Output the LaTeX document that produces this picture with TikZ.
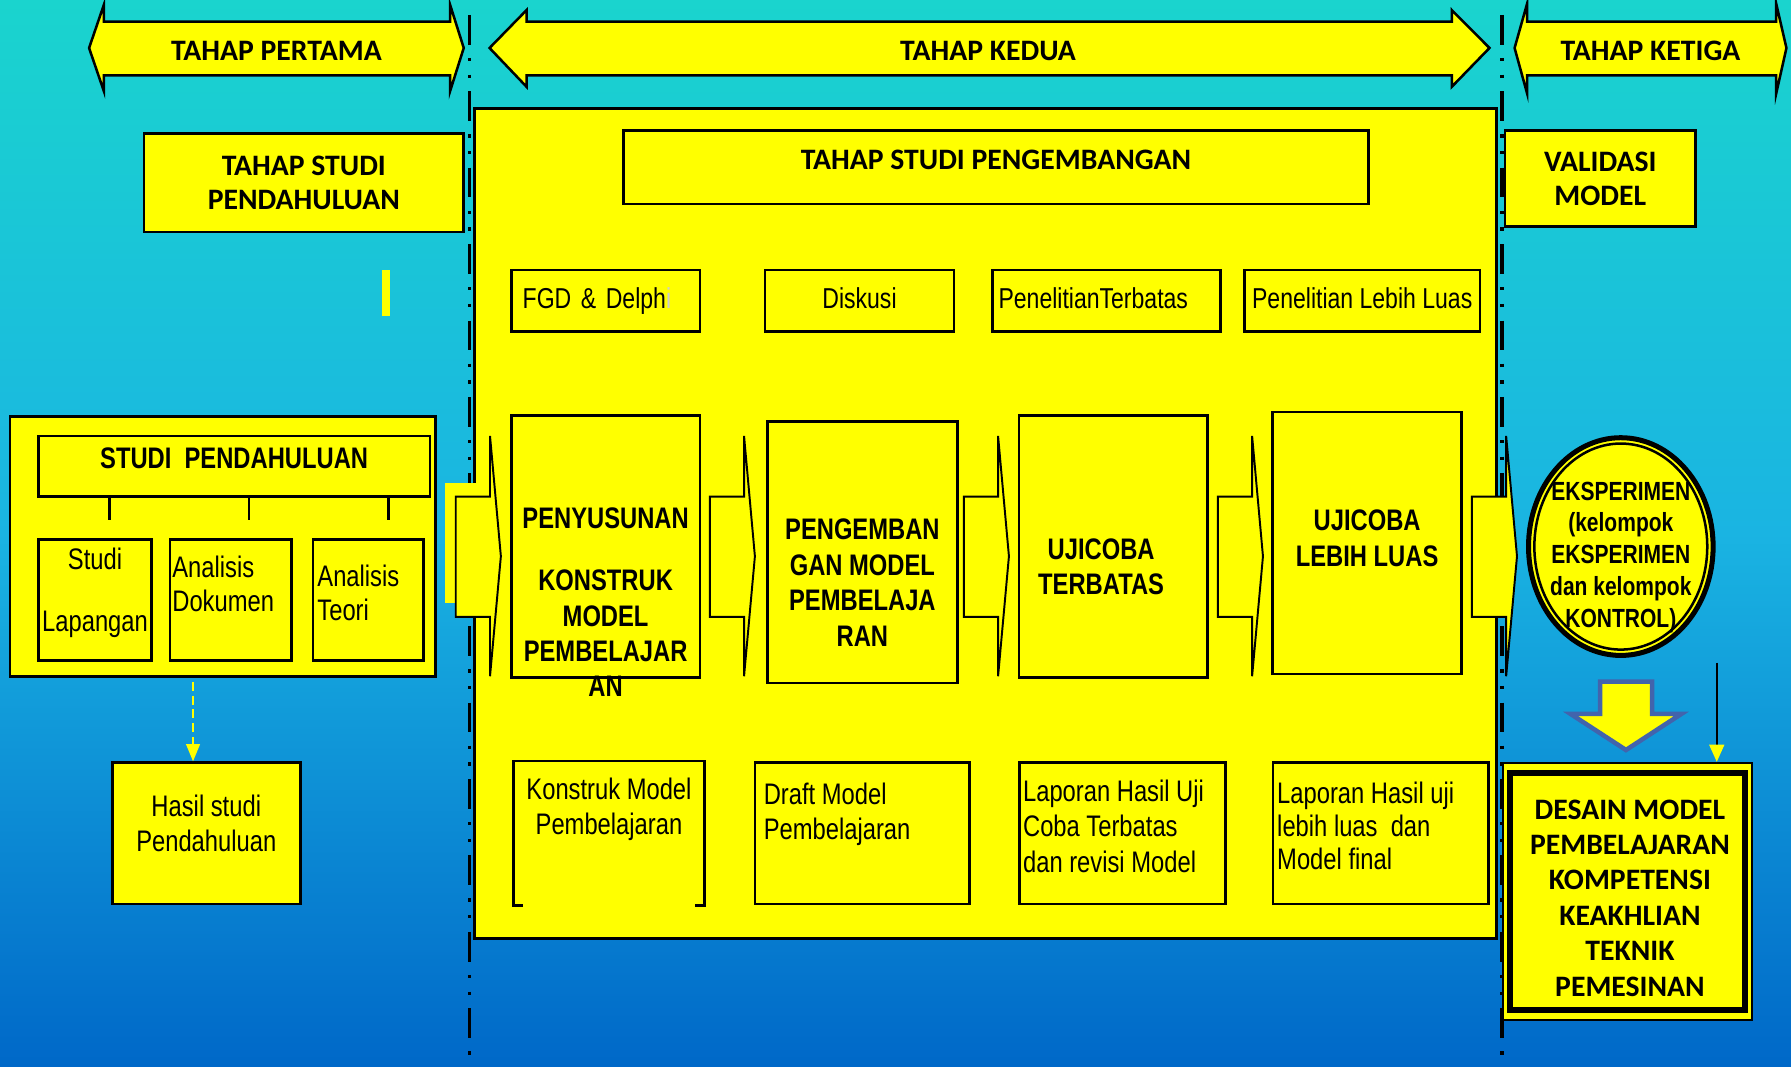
\documentclass[tikz,border=0pt]{standalone}
\usepackage{fontspec}
\setmainfont{Liberation Sans}
\newfontfamily\narrowfont{Liberation Sans}[FakeStretch=0.8]
\newfontfamily\califont{Carlito}
\usetikzlibrary{positioning,shapes.geometric,arrows.meta}

\definecolor{skytop}{RGB}{26,212,206}
\definecolor{skymid}{RGB}{26,180,226}
\definecolor{skybot}{RGB}{0,104,200}
\definecolor{downblue}{RGB}{66,100,172}
\definecolor{boxyellow}{RGB}{255,255,0}

\begin{document}
\begin{tikzpicture}[
        x = 0.5pt, y = -0.5pt,
        box/.style = {draw=black, line width=1.2pt, fill=boxyellow, inner sep=0pt},
        titletxt/.style = {font=\califont\bfseries\fontsize{13}{15}\selectfont, align=center},
        boldtxt/.style = {font=\narrowfont\bfseries\fontsize{13}{15.5}\selectfont, align=center, inner sep=0pt},
        bodytxt/.style = {font=\narrowfont\fontsize{13}{15.5}\selectfont, inner sep=0pt},
        topbox/.style = {box, minimum height=26.8pt, text height=9pt, text depth=2.5pt, font=\narrowfont\fontsize{12.6}{14}\selectfont},
        phaseline/.style = {line width=1.5pt, dash pattern=on 13pt off 5.85pt on 1.45pt off 5.85pt on 1.45pt off 5.85pt},
        bandarrow/.style = {draw=black, line width=1.1pt, fill=boxyellow},
        blockarrow/.style = {draw=black, line width=0.85pt, fill=boxyellow},
    ]
    \useasboundingbox (0,0) rectangle (1568,934);
    \shade[top color=skytop, bottom color=skybot, middle color=skymid] (0,0) rectangle (1568,934);

    % phase separators
    \coordinate (sep1) at (411,13);
    \coordinate (sep2) at (1315,13);
    \draw[phaseline] (sep1) -- (sep1 |- 0,934);
    \draw[phaseline] (sep2) -- (sep2 |- 0,934);

    % phase banners
    \draw[bandarrow] (78,42) -- (91,4) -- (91,19) -- (394,19) -- (394,4) -- (406,42)
        -- (394,80) -- (394,66) -- (91,66) -- (91,80) -- cycle;
    \draw[bandarrow] (428.6,42) -- (461,8.8) -- (461,19) -- (1271,19) -- (1271,8.8) -- (1304,42)
        -- (1271,76) -- (1271,66) -- (461,66) -- (461,76) -- cycle;
    \draw[bandarrow] (1326,42) -- (1337,3) -- (1337,19) -- (1555,19) -- (1555,3) -- (1564,42)
        -- (1555,82) -- (1555,66) -- (1337,66) -- (1337,82) -- cycle;
    \node[titletxt] (tahap1) at (242,44.5) {TAHAP PERTAMA};
    \node[titletxt] (tahap2) at (865,44.5) {TAHAP KEDUA};
    \node[titletxt] (tahap3) at (1445,44.5) {TAHAP KETIGA};

    % development panel
    \node[box, line width=1.3pt, minimum width=447.5pt, minimum height=363.5pt] (panel) at (862.5,458.5) {};

    \node[box, titletxt, minimum width=140pt, minimum height=43pt] (tsp) at (266,160) {TAHAP STUDI\\PENDAHULUAN};
    \node[box, titletxt, minimum width=326pt, minimum height=32pt, text depth=6.5pt] (tspg) at (872,146.5) {TAHAP STUDI PENGEMBANGAN};
    \node[box, titletxt, minimum width=83.5pt, minimum height=42pt] (val) at (1401,156.5) {VALIDASI\\MODEL};
    \fill[boxyellow] (334,236) rectangle (341,277);

    % methods
    \node[topbox, minimum width=82.4pt, text width=72.8pt, align=left] (fgd) at (530.4,263.2) {FGD \& Delph\textcolor{black!20}{i}};
    \node[topbox, minimum width=82.75pt] (disk) at (752.5,263.2) {Diskusi};
    \node[topbox, minimum width=99.85pt, text width=94.6pt, align=left] (pterb) at (968.8,263.2) {PenelitianTerbatas};
    \node[topbox, minimum width=103.2pt] (pluas) at (1192.6,263.2) {Penelitian Lebih Luas};

    % preliminary study
    \node[box, minimum width=186.1pt, minimum height=113.6pt] (sp) at (194.9,478.4) {};
    \node[box, boldtxt, minimum width=171.45pt, minimum height=26.65pt, text depth=7pt] (hdr) at (205,408.3) {STUDI\ \ PENDAHULUAN};
    \node[box, minimum width=49.6pt, minimum height=53pt] (sl) at (83.2,525) {};
    \node[box, minimum width=53.3pt, minimum height=53pt] (ad) at (202.1,525) {};
    \node[box, minimum width=48.25pt, minimum height=53pt] (at) at (322.25,525) {};
    \node[bodytxt, align=center, below = 4.25pt of sl.north] (sltxt) {Studi\\[11.5pt]Lapangan};
    \node[bodytxt, align=left, font=\narrowfont\fontsize{13}{15}\selectfont, below right = 7.75pt and 1.45pt of ad.north west] (adtxt) {Analisis\\Dokumen};
    \node[bodytxt, align=left, font=\narrowfont\fontsize{13}{15}\selectfont, below right = 11.75pt and 2.35pt of at.north west] (attxt) {Analisis\\Teori};
    \foreach \sx in {95.7,218,340}
        \draw[line width=1.1pt] (\sx,0 |- hdr.south) -- ++(0,19);

    \node[box, minimum width=82.4pt, minimum height=61.9pt] (hs) at (180.6,729.6) {};
    \node[bodytxt, align=center, below = 14.4pt of hs.north] (hstxt) {Hasil studi\\Pendahuluan};
    \coordinate (hstop) at (169,597);
    \draw[boxyellow, line width=0.75pt, dash pattern=on 4pt off 2pt, -{Triangle[length=7.5pt, width=6pt]}] (hstop) -- (hstop |- hs.north);

    % development stages
    \node[box, minimum width=82.65pt, minimum height=114.5pt] (pen) at (530.2,478.5) {};
    \node[box, minimum width=83pt, minimum height=114.5pt] (dev) at (755,483.5) {};
    \node[box, minimum width=82.5pt, minimum height=114.5pt] (ujt) at (974.5,478.5) {};
    \node[box, minimum width=82.85pt, minimum height=114.65pt] (ujl) at (1196.9,475.35) {};
    \node[boldtxt, below = 40.85pt of pen.north] (pentxt) {PENYUSUNAN\\[11.5pt]KONSTRUK\\MODEL\\PEMBELAJAR\\AN};
    \node[boldtxt, below = 43.15pt of dev.north] (devtxt) {PENGEMBAN\\GAN MODEL\\PEMBELAJA\\RAN};
    \node[boldtxt, below = 54.1pt of ujt.north, xshift=-5.25pt] (ujttxt) {UJICOBA\\TERBATAS};
    \node[boldtxt, below = 43.35pt of ujl.north] (ujltxt) {UJICOBA\\LEBIH LUAS};

    % outputs
    \node[box, draw=none, minimum width=82.15pt, minimum height=62.05pt] (kmp) at (533.15,729.45) {};
    \draw[line width=1.2pt] ([xshift=4pt]kmp.south west) -- (kmp.south west) -- (kmp.north west)
        -- (kmp.north east) -- (kmp.south east) -- ([xshift=-4pt]kmp.south east);
    \node[box, minimum width=94pt, minimum height=62.05pt] (dmp) at (755,729.45) {};
    \node[box, minimum width=90.1pt, minimum height=62.05pt] (lht) at (982.9,729.45) {};
    \node[box, minimum width=94.25pt, minimum height=62.05pt] (lhl) at (1208.75,729.45) {};
    \node[bodytxt, align=center, font=\narrowfont\fontsize{13}{15}\selectfont, below = 7.35pt of kmp.north] (kmptxt) {Konstruk Model\\Pembelajaran};
    \node[bodytxt, align=left, font=\narrowfont\fontsize{13}{15}\selectfont, below right = 9.55pt and 4.25pt of dmp.north west] (dmptxt) {Draft Model\\Pembelajaran};
    \node[bodytxt, align=left, below right = 8.05pt and 1.85pt of lht.north west] (lhttxt) {Laporan Hasil Uji\\Coba Terbatas\\dan revisi Model};
    \node[bodytxt, align=left, font=\narrowfont\fontsize{13}{14.5}\selectfont, below right = 8.85pt and 2.25pt of lhl.north west] (lhltxt) {Laporan Hasil uji\\lebih luas\ \ dan\\Model final};

    % flow arrows
    \fill[boxyellow] (390,423) rectangle (430,528);
    \foreach \i in {0,...,4} {
        \pgfmathsetmacro{\xa}{399+222.4*\i}
        \draw[blockarrow] (\xa,434.8) -- ++(30,0) -- ++(0,-53.1) -- ++(9.5,105.3)
            -- ++(-9.5,105) -- ++(0,-52) -- ++(-30,0) -- cycle;
    }

    % validation
    \node[ellipse, draw=black, line width=2.2pt, fill=boxyellow, minimum width=80.8pt, minimum height=95.3pt, inner sep=0pt] (eks) at (1419,478.5) {};
    \draw[line width=1.1pt] (eks.center) ellipse [x radius=37.85pt, y radius=45.1pt];
    \node[boldtxt, font=\narrowfont\bfseries\fontsize{11.5}{13.9}\selectfont, below = 20.2pt of eks.north] (ekstxt) {EKSPERIMEN\\(kelompok\\EKSPERIMEN\\dan kelompok\\KONTROL)};

    \draw[draw=downblue, line width=2pt, fill=boxyellow] (1400.8,596.8) -- (1446.4,596.8) -- (1446.4,625)
        -- (1472,625) -- (1423.5,656.6) -- (1375,625) -- (1400.8,625) -- cycle;

    \node[box, line width=1pt, minimum width=108.8pt, minimum height=112.5pt] (des) at (1424.8,780.5) {};
    \draw[line width=2.5pt] ([shift={(7,10)}]des.north west) rectangle ([shift={(-7,-10)}]des.south east);
    \node[titletxt, font=\califont\bfseries\fontsize{13}{15.5}\selectfont, inner sep=0pt, below = 16.3pt of des.north, xshift=1.1pt] (destxt) {DESAIN MODEL\\PEMBELAJARAN\\KOMPETENSI\\KEAKHLIAN\\TEKNIK\\PEMESINAN};

    \coordinate (ctrl) at (1503,580);
    \draw[line width=0.8pt, -{Triangle[length=7.5pt, width=6.5pt, color=boxyellow]}] (ctrl) -- (ctrl |- des.north);
\end{tikzpicture}
\end{document}
